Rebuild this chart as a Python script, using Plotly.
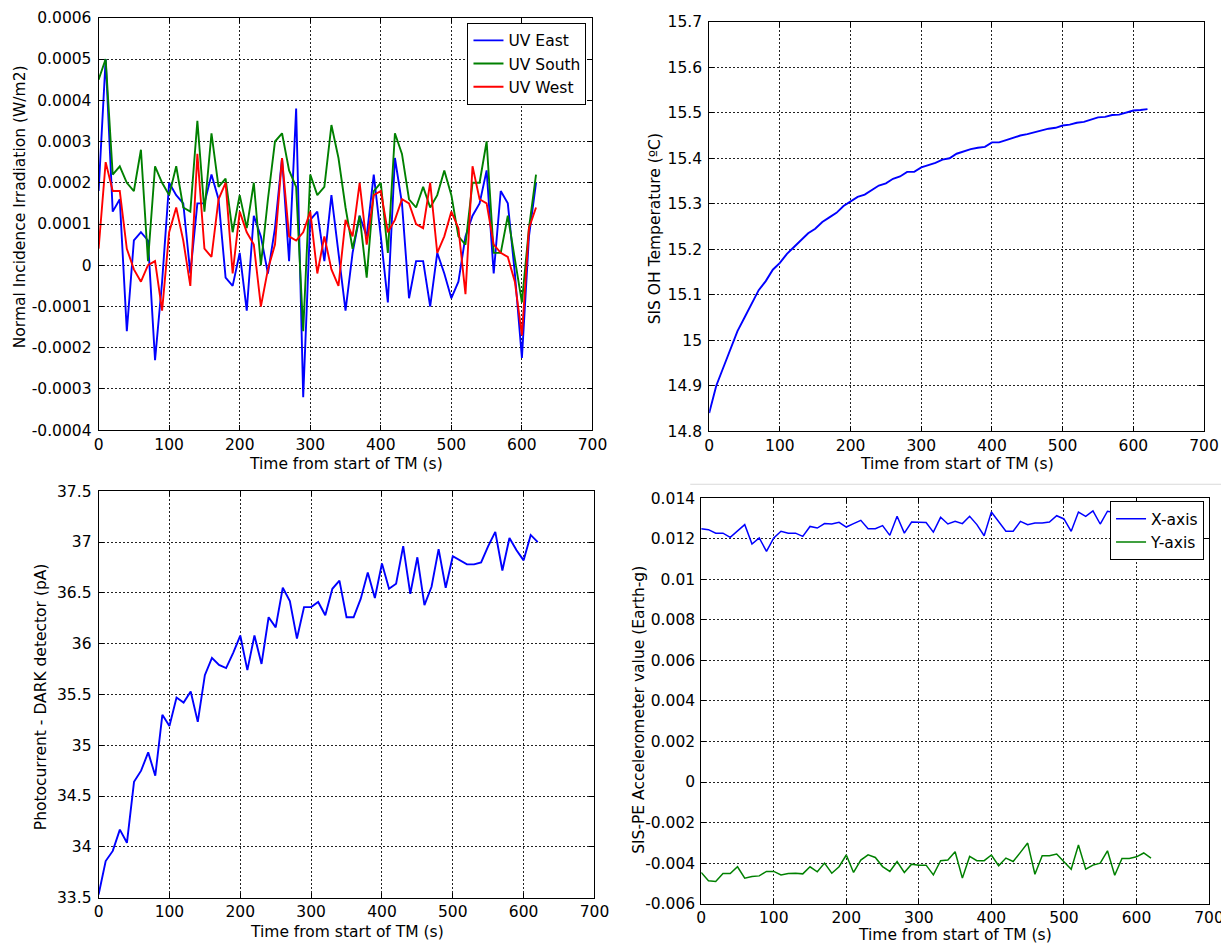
import plotly.graph_objects as go

# ---------------- data ----------------
time_s = [0, 10, 20, 30, 40, 50, 60, 70, 80, 90, 100, 110, 120, 130, 140, 150, 160, 170, 180, 190,
          200, 210, 220, 230, 240, 250, 260, 270, 280, 290, 300, 310, 320, 330, 340, 350, 360, 370, 380, 390,
          400, 410, 420, 430, 440, 450, 460, 470, 480, 490, 500, 510, 520, 530, 540, 550, 560, 570, 580, 590,
          600, 610, 620]

uv_east = [0.00018, 0.0005, 0.00013, 0.00016, -0.00016, 0.00006, 0.00008, 0.00006, -0.00023, -0.00004,
           0.0002, 0.00017, 0.00015, -0.00002, 0.00015, 0.00015, 0.00022, 0.00016, -0.00003, -0.00005,
           0.00003, -0.00011, 0.00012, 0.00007, -0.00002, 0.00009, 0.00026, 0.00001, 0.00038, -0.00032,
           0.00011, 0.00013, 0.00001, 0.00017, 0.00003, -0.00011, 0.00003, 0.00012, 0.00007, 0.00022,
           0.00007, -0.00009, 0.00026, 0.00015, -0.00008, 0.00001, 0.00001, -0.0001, 0.00003, -0.00002,
           -0.00008, -0.00004, 0.00007, 0.00012, 0.00015, 0.00023, -0.00002, 0.00018, 0.00015, -0.00002,
           -0.000225, 0.00007, 0.0002]

uv_south = [0.00045, 0.0005, 0.00022, 0.00024, 0.0002, 0.00018, 0.00028, 0.00001, 0.00024, 0.0002,
            0.00017, 0.00024, 0.00014, 0.00013, 0.00035, 0.00013, 0.00032, 0.00019, 0.00021, 0.00008,
            0.00017, 0.00009, 0.0002, 0.0, 0.00016, 0.0003, 0.00032, 0.00023, 0.00019, -0.00016,
            0.00022, 0.00017, 0.00019, 0.00034, 0.00026, 0.00014, 0.00004, 0.00012, -0.00003, 0.00018,
            0.0002, 0.00003, 0.00032, 0.00027, 0.00016, 0.00014, 0.00019, 0.00014, 0.00017, 0.00023,
            0.00017, 0.00007, 0.00005, 0.0002, 0.0002, 0.0003, 0.00003, 0.00003, 0.00012, 0.00001,
            -0.00009, 0.00009, 0.00022]

uv_west = [0.00004, 0.00025, 0.00018, 0.00018, 0.00004, -0.00001, -0.00004, 0.0, 0.00001, -0.00011,
           0.00008, 0.00014, 0.00006, -0.00005, 0.00027, 0.00004, 0.00002, 0.00016, 0.0002, -0.00002,
           0.00013, 0.00008, 0.00005, -0.0001, -0.00001, 0.00005, 0.00026, 0.00007, 0.00006, 0.00008,
           0.00013, -0.00002, 0.00007, -0.00001, -0.00005, 0.00011, 0.00007, 0.0002, 0.00005, 0.00017,
           0.00018, 0.00008, 0.00011, 0.00016, 0.00015, 0.0001, 0.00009, 0.0002, 0.00003, 0.00007,
           0.00013, 0.00009, -0.00007, 0.00024, 0.00016, 0.00015, 0.00005, 0.00003, 0.00002, -0.00004,
           -0.00017, 0.00009, 0.00014]

oh_temperature = [14.84, 14.90, 14.94, 14.98, 15.02, 15.05, 15.08, 15.11, 15.13, 15.155,
                  15.17, 15.19, 15.205, 15.22, 15.235, 15.245, 15.26, 15.27, 15.28, 15.295,
                  15.305, 15.315, 15.32, 15.33, 15.34, 15.345, 15.355, 15.36, 15.37, 15.37,
                  15.38, 15.385, 15.39, 15.397, 15.40, 15.41, 15.415, 15.42, 15.423, 15.425,
                  15.435, 15.435, 15.44, 15.445, 15.45, 15.453, 15.457, 15.46, 15.465, 15.467,
                  15.472, 15.474, 15.478, 15.48, 15.485, 15.49, 15.491, 15.495, 15.496, 15.50,
                  15.505, 15.506, 15.508]

photocurrent = [33.53, 33.86, 33.96, 34.17, 34.04, 34.64, 34.75, 34.93, 34.70, 35.30,
                35.19, 35.47, 35.42, 35.53, 35.23, 35.69, 35.86, 35.79, 35.76, 35.91,
                36.08, 35.74, 36.08, 35.80, 36.26, 36.16, 36.55, 36.42, 36.05, 36.36,
                36.36, 36.41, 36.28, 36.54, 36.62, 36.26, 36.26, 36.44, 36.70, 36.45,
                36.79, 36.54, 36.59, 36.96, 36.49, 36.85, 36.38, 36.56, 36.93, 36.55,
                36.86, 36.82, 36.78, 36.78, 36.80, 36.96, 37.10, 36.72, 37.04, 36.92,
                36.82, 37.07, 37.00]

accel_x = [0.0125, 0.01245, 0.01228, 0.01228, 0.01207, 0.0124, 0.0127, 0.01174, 0.01204, 0.01138,
           0.01204, 0.01237, 0.01228, 0.01228, 0.01212, 0.01261, 0.01253, 0.01275, 0.01273, 0.01281,
           0.01258, 0.01275, 0.01291, 0.0125, 0.0125, 0.01265, 0.01217, 0.01311, 0.01228, 0.01283,
           0.01281, 0.0128, 0.01233, 0.01306, 0.01273, 0.01286, 0.01275, 0.01311, 0.0127, 0.01215,
           0.01332, 0.01286, 0.01237, 0.01237, 0.01286, 0.0127, 0.01278, 0.01278, 0.01283, 0.01314,
           0.01298, 0.01237, 0.01332, 0.01311, 0.01338, 0.01273, 0.01336, 0.0133, 0.0131, 0.0132,
           0.0130, 0.0132, 0.0131]

accel_y = [-0.00446, -0.00487, -0.00491, -0.00451, -0.00451, -0.00418, -0.00474, -0.00466, -0.00463, -0.00441,
           -0.00441, -0.00458, -0.00451, -0.0045, -0.00453, -0.00418, -0.00443, -0.004, -0.0045, -0.00418,
           -0.0036, -0.00446, -0.00385, -0.00359, -0.00372, -0.00417, -0.00441, -0.00392, -0.00446, -0.00405,
           -0.0041, -0.0041, -0.00458, -0.00388, -0.00385, -0.00344, -0.00474, -0.00367, -0.00388, -0.00388,
           -0.0036, -0.00413, -0.00375, -0.00392, -0.00347, -0.00301, -0.00455, -0.00364, -0.00364, -0.00355,
           -0.00393, -0.0043, -0.00311, -0.0043, -0.0041, -0.004, -0.00339, -0.0046, -0.00377, -0.00377,
           -0.00369, -0.0035, -0.00375]

x_ticks = [0, 100, 200, 300, 400, 500, 600, 700]
x_ticktext = ["0", "100", "200", "300", "400", "500", "600", "700"]

uv_ticks = [-0.0004, -0.0003, -0.0002, -0.0001, 0, 0.0001, 0.0002, 0.0003, 0.0004, 0.0005, 0.0006]
uv_ticktext = ["-0.0004", "-0.0003", "-0.0002", "-0.0001", "0", "0.0001", "0.0002", "0.0003",
               "0.0004", "0.0005", "0.0006"]

temp_ticks = [14.8, 14.9, 15.0, 15.1, 15.2, 15.3, 15.4, 15.5, 15.6, 15.7]
temp_ticktext = ["14.8", "14.9", "15", "15.1", "15.2", "15.3", "15.4", "15.5", "15.6", "15.7"]

pc_ticks = [33.5, 34, 34.5, 35, 35.5, 36, 36.5, 37, 37.5]
pc_ticktext = ["33.5", "34", "34.5", "35", "35.5", "36", "36.5", "37", "37.5"]

acc_ticks = [-0.006, -0.004, -0.002, 0, 0.002, 0.004, 0.006, 0.008, 0.01, 0.012, 0.014]
acc_ticktext = ["-0.006", "-0.004", "-0.002", "0", "0.002", "0.004", "0.006", "0.008", "0.01",
                "0.012", "0.014"]

x_title = "Time from start of TM (s)"
y_titles = ["Normal Incidence Irradiation (W/m2)", "SIS OH Temperature (ºC)",
            "Photocurrent - DARK detector (pA)", "SIS-PE Accelerometer value (Earth-g)"]

# ---------------- figure ----------------
W, H = 1229, 945
# screen position = offset + scale * figure position (measured from earlier renders)
SX, OX = 0.986, 11.2
SY, OY = 0.98, 16.2
FONT = "DejaVu Sans, Verdana, sans-serif"
FS = 15.5
LEG_FS = 15.5


def px_x(x):
    return ((x - OX) / SX) / W


def px_y(y):
    return 1 - ((y - OY) / SY) / H


def xdom(x0, x1):
    return [px_x(x0), px_x(x1)]


def ydom(top, bottom):
    return [px_y(bottom), px_y(top)]


fig = go.Figure()

line_w = 1.9
fig.add_trace(go.Scatter(x=time_s, y=uv_east, mode="lines", name="UV East",
                         line=dict(color="#0000FF", width=line_w), xaxis="x", yaxis="y", legend="legend"))
fig.add_trace(go.Scatter(x=time_s, y=uv_south, mode="lines", name="UV South",
                         line=dict(color="#008000", width=line_w), xaxis="x", yaxis="y", legend="legend"))
fig.add_trace(go.Scatter(x=time_s, y=uv_west, mode="lines", name="UV West",
                         line=dict(color="#FF0000", width=line_w), xaxis="x", yaxis="y", legend="legend"))

fig.add_trace(go.Scatter(x=time_s, y=oh_temperature, mode="lines", name="SIS OH Temperature",
                         line=dict(color="#0000FF", width=line_w), xaxis="x2", yaxis="y2", showlegend=False))

fig.add_trace(go.Scatter(x=time_s, y=photocurrent, mode="lines", name="Photocurrent",
                         line=dict(color="#0000FF", width=line_w), xaxis="x3", yaxis="y3", showlegend=False))

fig.add_trace(go.Scatter(x=time_s, y=accel_x, mode="lines", name="X-axis",
                         line=dict(color="#0000FF", width=1.5), xaxis="x4", yaxis="y4", legend="legend2"))
fig.add_trace(go.Scatter(x=time_s, y=accel_y, mode="lines", name="Y-axis",
                         line=dict(color="#008000", width=1.5), xaxis="x4", yaxis="y4", legend="legend2"))


def axis_common():
    return dict(
        showline=True, linecolor="black", linewidth=1, mirror="ticks",
        ticks="inside", ticklen=5, tickcolor="black", tickwidth=1,
        showgrid=True, gridcolor="#222222", griddash="2px,2px", gridwidth=1,
        zeroline=False, tickfont=dict(family=FONT, size=FS, color="black"),
        tickmode="array",
    )


def xaxis(dom, anchor):
    d = axis_common()
    d.update(domain=dom, anchor=anchor, range=[0, 700], tickvals=x_ticks, ticktext=x_ticktext)
    return d


def yaxis(dom, anchor, rng, tv, tt, standoff=3):
    d = axis_common()
    d.update(domain=dom, anchor=anchor, range=rng, tickvals=tv, ticktext=tt, ticklabelstandoff=standoff)
    return d


legend_common = dict(bgcolor="white", bordercolor="black", borderwidth=1,
                     font=dict(family=FONT, size=LEG_FS, color="black"), xanchor="right", yanchor="top",
                     tracegroupgap=0, itemwidth=30)

fig.update_layout(
    width=W, height=H,
    margin=dict(l=0, r=0, t=0, b=0),
    paper_bgcolor="white", plot_bgcolor="white",
    font=dict(family=FONT, size=FS, color="black"),
    xaxis=xaxis(xdom(97, 592), "y"),
    yaxis=yaxis(ydom(17, 429), "x", [-0.0004, 0.0006], uv_ticks, uv_ticktext),
    xaxis2=xaxis(xdom(709, 1205), "y2"),
    yaxis2=yaxis(ydom(21, 430), "x2", [14.8, 15.7], temp_ticks, temp_ticktext),
    xaxis3=xaxis(xdom(97, 594), "y3"),
    yaxis3=yaxis(ydom(490, 896), "x3", [33.5, 37.5], pc_ticks, pc_ticktext),
    xaxis4=xaxis(xdom(701, 1210), "y4"),
    yaxis4=yaxis(ydom(497, 902), "x4", [-0.006, 0.014], acc_ticks, acc_ticktext, 2),
    legend=dict(legend_common, x=px_x(586), y=px_y(22)),
    legend2=dict(legend_common, x=px_x(1205), y=px_y(500)),
    showlegend=True,
)

# axis titles (centre positions in screen pixels)
x_title_pos = [(344.5, 463), (957, 463), (345.5, 930), (955.5, 933)]
y_title_pos = [(18.5, 206), (655, 228), (40, 695), (639, 708)]
for (cx, cy) in x_title_pos:
    fig.add_annotation(text=x_title, xref="paper", yref="paper", x=px_x(cx), y=px_y(cy),
                       xanchor="center", yanchor="middle", showarrow=False,
                       font=dict(family=FONT, size=FS, color="black"))
for (cx, cy), t in zip(y_title_pos, y_titles):
    fig.add_annotation(text=t, xref="paper", yref="paper", x=px_x(cx), y=px_y(cy),
                       xanchor="center", yanchor="middle", showarrow=False, textangle=-90,
                       font=dict(family=FONT, size=FS, color="black"))

# faint separator line of the composed figure
fig.add_shape(type="line", xref="paper", yref="paper", x0=px_x(690), x1=1, y0=px_y(483), y1=px_y(483),
              line=dict(color="#d9d9d9", width=1))

fig.write_html("out.html")
